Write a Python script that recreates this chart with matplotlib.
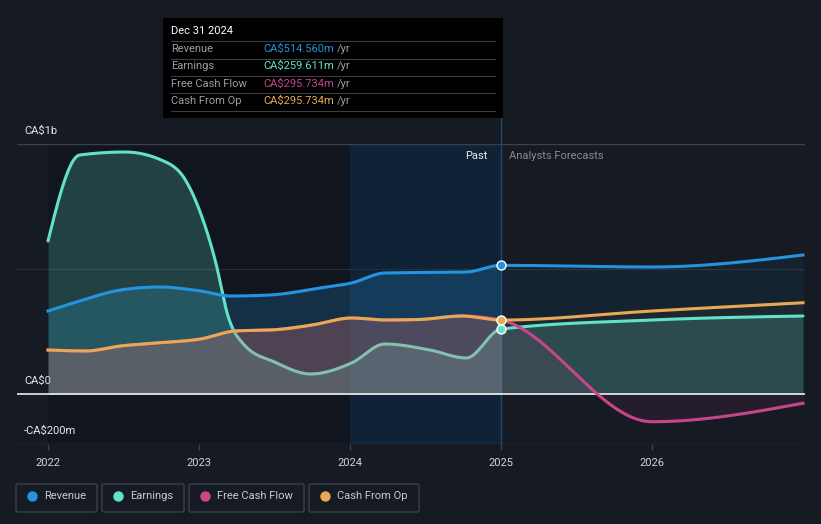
import numpy as np
import matplotlib
matplotlib.use("Agg")
import matplotlib.pyplot as plt
from matplotlib.patches import Rectangle, FancyBboxPatch
from matplotlib.lines import Line2D

plt.rcParams['font.family'] = ['Roboto', 'DejaVu Sans']

# ---------------- data (CA$ billions) ----------------
rev_x = [2022.0, 2022.21, 2022.48, 2022.74, 2023.01, 2023.21, 2023.47, 2023.80, 2024.01, 2024.23, 2024.77, 2025.0, 2026.0, 2027.0]
rev_y = [0.332, 0.372, 0.416, 0.428, 0.412, 0.392, 0.396, 0.424, 0.444, 0.484, 0.488, 0.5146, 0.508, 0.556]

earn_x = [2022.0, 2022.21, 2022.51, 2022.75, 2022.91, 2023.01, 2023.11, 2023.19, 2023.30, 2023.50, 2023.74, 2024.01, 2024.23, 2024.53, 2024.77, 2025.0, 2026.0, 2027.0]
earn_y = [0.612, 0.956, 0.968, 0.936, 0.856, 0.724, 0.528, 0.316, 0.196, 0.128, 0.080, 0.124, 0.200, 0.176, 0.144, 0.2596, 0.296, 0.312]

cfo_x = [2022.0, 2022.25, 2022.48, 2022.74, 2023.01, 2023.24, 2023.50, 2023.75, 2024.01, 2024.23, 2024.46, 2024.74, 2025.0, 2026.0, 2027.0]
cfo_y = [0.176, 0.172, 0.192, 0.205, 0.220, 0.252, 0.257, 0.276, 0.304, 0.296, 0.298, 0.312, 0.2957, 0.332, 0.365]

fcf_x = [2022.0, 2022.25, 2022.48, 2022.74, 2023.01, 2023.24, 2023.50, 2023.75, 2024.01, 2024.23, 2024.46, 2024.74, 2025.0, 2026.0, 2027.0]
fcf_y = [0.176, 0.172, 0.192, 0.205, 0.220, 0.252, 0.257, 0.276, 0.304, 0.296, 0.298, 0.312, 0.2957, -0.111, -0.037]

year_ticks = [2022, 2023, 2024, 2025, 2026]
y_labels = [(1.0, "CA$1b"), (0.0, "CA$0"), (-0.2, "-CA$200m")]

tooltip_title = "Dec 31 2024"
tooltip_rows = [("Revenue", "CA$514.560m"), ("Earnings", "CA$259.611m"),
                ("Free Cash Flow", "CA$295.734m"), ("Cash From Op", "CA$295.734m")]
legend_names = ["Revenue", "Earnings", "Free Cash Flow", "Cash From Op"]

# ---------------- style ----------------
BG = "#151a23"
C_REV = "#2394df"
C_EARN = "#62e2c8"
C_FCF = "#c9458a"
C_CFO = "#e8a955"
colors = [C_REV, C_EARN, C_FCF, C_CFO]

W, H = 821, 524
NOW = 2025.0


def monotone_x(xs, ys, n=40):
    xs = np.asarray(xs, float); ys = np.asarray(ys, float)
    m = len(xs)
    h = np.diff(xs); s = np.diff(ys) / h
    t = np.zeros(m)
    for i in range(1, m - 1):
        s0, s1 = s[i - 1], s[i]
        p = (s0 * h[i] + s1 * h[i - 1]) / (h[i - 1] + h[i])
        t[i] = (np.sign(s0) + np.sign(s1)) * min(abs(s0), abs(s1), 0.5 * abs(p))
    t[0] = (3 * s[0] - t[1]) / 2
    t[-1] = (3 * s[-1] - t[-2]) / 2
    ox, oy = [], []
    for i in range(m - 1):
        u = np.linspace(0, 1, n, endpoint=(i == m - 2))
        hh = h[i]
        h00 = 2 * u**3 - 3 * u**2 + 1
        h10 = u**3 - 2 * u**2 + u
        h01 = -2 * u**3 + 3 * u**2
        h11 = u**3 - u**2
        ox.append(xs[i] + u * hh)
        oy.append(h00 * ys[i] + h10 * hh * t[i] + h01 * ys[i + 1] + h11 * hh * t[i + 1])
    return np.concatenate(ox), np.concatenate(oy)


def split(x, y):
    """split a curve into history (<= NOW) and forecast (>= NOW) parts"""
    hmask = x <= NOW + 1e-9
    fmask = x >= NOW - 1e-9
    return (x[hmask], y[hmask]), (x[fmask], y[fmask])


fig = plt.figure(figsize=(W / 100, H / 100), dpi=100, facecolor=BG)
ax = fig.add_axes([17 / W, 1 - 444 / H, (805 - 17) / W, 300 / H])
ax.set_facecolor(BG)
x0 = 2022 - 31 / 151
x1 = 2022 + 757 / 151
ax.set_xlim(x0, x1)
ax.set_ylim(-0.2, 1.0)
for sp in ax.spines.values():
    sp.set_visible(False)

# shading
ax.axvspan(2022, 2024, color="#0c0f15", alpha=0.4, lw=0, zorder=0)
ax.axvspan(2024, 2025, color="#0d2a45", alpha=0.55, lw=0, zorder=0)

# grid lines
ax.axhline(1.0, color="#3b404a", lw=1, zorder=1)
ax.axhline(0.5, color="#2a303a", lw=0.8, zorder=1)
ax.axhline(-0.2, color="#3b404a", lw=1, zorder=1)

rx, ry = monotone_x(rev_x, rev_y)
ex, ey = monotone_x(earn_x, earn_y)
cx, cy = monotone_x(cfo_x, cfo_y)
fx, fy = monotone_x(fcf_x, fcf_y)

(rhx, rhy), (rfx, rfy) = split(rx, ry)
(ehx, ehy), (efx, efy) = split(ex, ey)
(chx, chy), (cfx, cfy) = split(cx, cy)
(fhx, fhy), (ffx, ffy) = split(fx, fy)

# fills
ax.fill_between(rhx, 0, rhy, color=C_REV, alpha=0.22, lw=0, zorder=2)
ax.fill_between(rfx, 0, rfy, color=C_REV, alpha=0.07, lw=0, zorder=2)
ax.fill_between(ehx, 0, ehy, color=C_EARN, alpha=0.22, lw=0, zorder=2.5)
ax.fill_between(efx, 0, efy, color=C_EARN, alpha=0.20, lw=0, zorder=2.5)

ax.plot(ehx, ehy, color=C_EARN, lw=2.2, zorder=3, solid_capstyle="round")
ax.plot(efx, efy, color=C_EARN, lw=2.2, zorder=6, solid_capstyle="round")

ax.fill_between(chx, 0, chy, color=C_CFO, alpha=0.16, lw=0, zorder=4)
ax.fill_between(cfx, 0, cfy, color=C_CFO, alpha=0.04, lw=0, zorder=4)
ax.fill_between(fhx, 0, fhy, color=C_FCF, alpha=0.16, lw=0, zorder=4)
ax.fill_between(ffx, 0, ffy, color=C_FCF, alpha=0.09, lw=0, zorder=4)

ax.axhline(0.0, color="#ffffff", lw=1.1, zorder=5)

ax.plot(rx, ry, color=C_REV, lw=2.2, zorder=6)
ax.plot(fx, fy, color=C_FCF, lw=2.2, zorder=6)
ax.plot(cx, cy, color=C_CFO, lw=2.2, zorder=7)

# vertical now line
ax.plot([NOW, NOW], [-0.2, (394 - 118) / 250], color="#1f4a6e", lw=1, zorder=1.5, clip_on=False)

# markers at the present
for xs_, ys_, col in [(rev_x, rev_y, C_REV), (cfo_x, cfo_y, C_CFO), (earn_x, earn_y, C_EARN)]:
    i = xs_.index(NOW)
    ax.scatter([xs_[i]], [ys_[i]], s=42, color=col, edgecolor="white", linewidth=1.0, zorder=9)

# y labels
for val, lab in y_labels:
    ax.annotate(lab, xy=(0, val), xycoords=("axes fraction", "data"), xytext=(7, 13),
                textcoords="offset pixels", va="center", ha="left", color="#e6e8eb", fontsize=8)

# x ticks
ax.set_xticks(year_ticks)
ax.set_xticklabels([str(y) for y in year_ticks])
ax.tick_params(axis="x", colors="#3b404a", length=4, width=1, pad=6, labelcolor="#d0d3d8", labelsize=8)
ax.set_yticks([])

# past / forecast labels
ax.text(NOW - 14 / 151, (394 - 156) / 250, "Past", ha="right", va="center", color="#eeeeee", fontsize=8)
ax.text(NOW + 8 / 151, (394 - 156) / 250, "Analysts Forecasts", ha="left", va="center", color="#858b94", fontsize=8)


# tooltip
def px(x):
    return x / W


def py(y):
    return 1 - y / H


fig.add_artist(Rectangle((px(163), py(118)), 340 / W, 100 / H, transform=fig.transFigure,
                         facecolor="#000000", edgecolor="none", zorder=10))
fig.text(px(171), py(31), tooltip_title, color="#ffffff", fontsize=8, va="center", ha="left", zorder=11)
row_ys = [48.5, 66, 84, 101]
sep_ys = [41, 58.5, 76, 93, 110.5]
for yy in sep_ys:
    fig.add_artist(Line2D([px(171), px(495)], [py(yy), py(yy)], transform=fig.transFigure,
                          color="#3a3d42", lw=0.8, zorder=11))
for (lab, val), yy, col in zip(tooltip_rows, row_ys, colors):
    fig.text(px(171), py(yy), lab, color="#9a9ea5", fontsize=8, va="center", ha="left", zorder=11)
    fig.text(px(263), py(yy), val, color=col, fontsize=8, va="center", ha="left", zorder=11)
    fig.text(px(337), py(yy), "/yr", color="#9a9ea5", fontsize=8, va="center", ha="left", zorder=11)

# legend
boxes = [(16, 97), (102, 184), (189, 304), (309, 419)]
for (bx0, bx1), name, col in zip(boxes, legend_names, colors):
    fig.add_artist(FancyBboxPatch((px(bx0), py(512)), (bx1 - bx0) / W, 28 / H,
                                  boxstyle="round,pad=0,rounding_size=0.003", transform=fig.transFigure,
                                  facecolor="none", edgecolor="#3b404a", lw=1))
    fig.add_artist(Line2D([px(bx0 + 16)], [py(496)], marker="o", markersize=6.5, color=col,
                          transform=fig.transFigure, lw=0))
    fig.text(px(bx0 + 28), py(496), name, color="#c8ccd2", fontsize=8, va="center", ha="left")

fig.savefig("out.png", dpi=100, facecolor=BG)
